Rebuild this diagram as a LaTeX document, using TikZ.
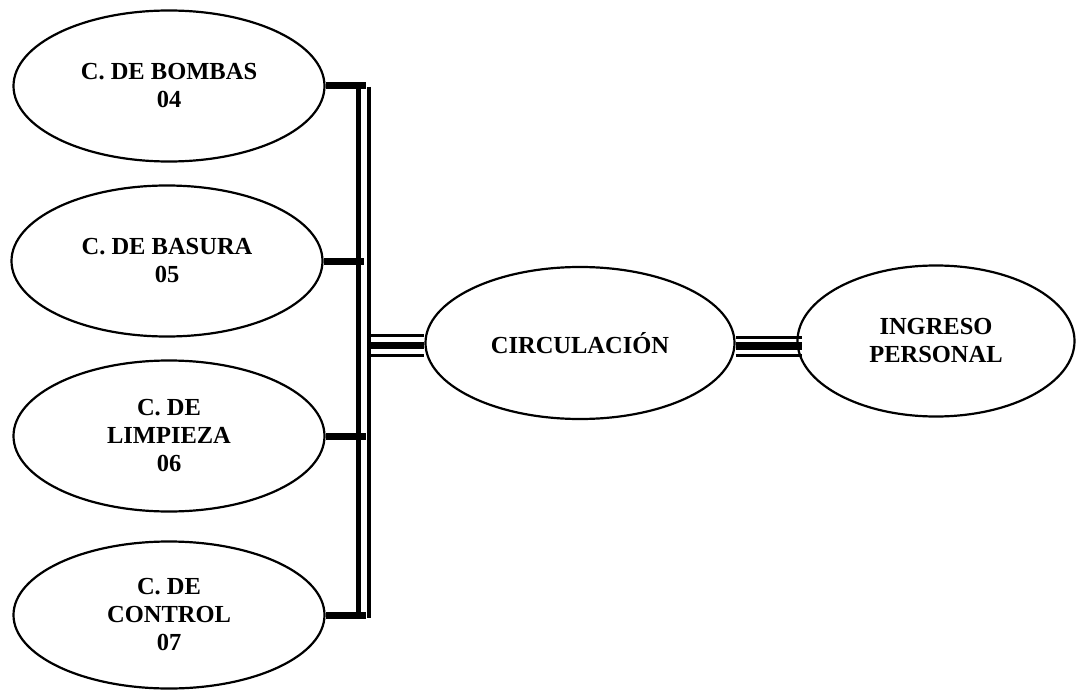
\documentclass[tikz,border=0pt]{standalone}
\usepackage{fontspec}
\setmainfont{Liberation Serif}
\usetikzlibrary{shapes.geometric}
\begin{document}
\begin{tikzpicture}[x=1pt,y=-1pt,
  room/.style={ellipse,draw,line width=2.2pt,inner sep=0pt,align=center,
    font=\bfseries\fontsize{24.5}{28}\selectfont},
  leftroom/.style={room,minimum width=311pt,minimum height=151pt},
  bar/.style={line width=7pt},
  busa/.style={line width=5pt},
  busb/.style={line width=4.5pt},
  thinline/.style={line width=3pt},
  thickline/.style={line width=7.5pt}]
\useasboundingbox (0,0) rectangle (1076,690);

% rooms
\node[leftroom] (bombas)  at (169,86)  {C. DE BOMBAS\\04};
\node[leftroom] (basura)  at (167,261) {C. DE BASURA\\05};
\node[leftroom] (limpieza) at (169,436) {C. DE\\LIMPIEZA\\06};
\node[leftroom,minimum height=147pt] (control) at (169,615) {C. DE\\CONTROL\\07};
\node[room,minimum width=309pt,minimum height=152pt] (circ) at (580,343) {CIRCULACIÓN};
\node[room,minimum width=277pt,minimum height=151pt] (ingreso) at (936,341) {INGRESO\\PERSONAL};

% reference coordinates of the bus
\coordinate (v1) at (358.5,0);
\coordinate (v2) at (369,0);
\coordinate (endA) at (366,0);
\coordinate (endB) at (363.5,0);
\coordinate (tA) at (0,335.8);
\coordinate (tB) at (0,345.5);
\coordinate (tC) at (0,355);
\coordinate (uA) at (0,337.6);
\coordinate (uB) at (0,346);
\coordinate (uC) at (0,355.2);
\coordinate (inx) at (802,0);

% double vertical bus
\draw[busa] (bombas.east -| v1) -- (control.east -| v1);
\draw[busb] ([yshift=-1pt]bombas.east -| v2) -- ([yshift=-3pt]control.east -| v2);

% bars from rooms to bus
\draw[bar] (bombas.east) -- (bombas.east -| endA);
\draw[bar] (basura.east) -- (basura.east -| endB);
\draw[bar] (limpieza.east) -- (limpieza.east -| endA);
\draw[bar] (control.east) -- (control.east -| endA);

% triple line bus -> circulacion
\draw[thinline]  (v2 |- tA) -- (circ.west |- tA);
\draw[thickline] (v2 |- tB) -- (circ.west |- tB);
\draw[thinline]  (v2 |- tC) -- (circ.west |- tC);

% triple line circulacion -> ingreso
\draw[thinline]  (circ.east |- uA) -- (inx |- uA);
\draw[thickline] (circ.east |- uB) -- (inx |- uB);
\draw[thinline]  (circ.east |- uC) -- (inx |- uC);
\end{tikzpicture}
\end{document}
